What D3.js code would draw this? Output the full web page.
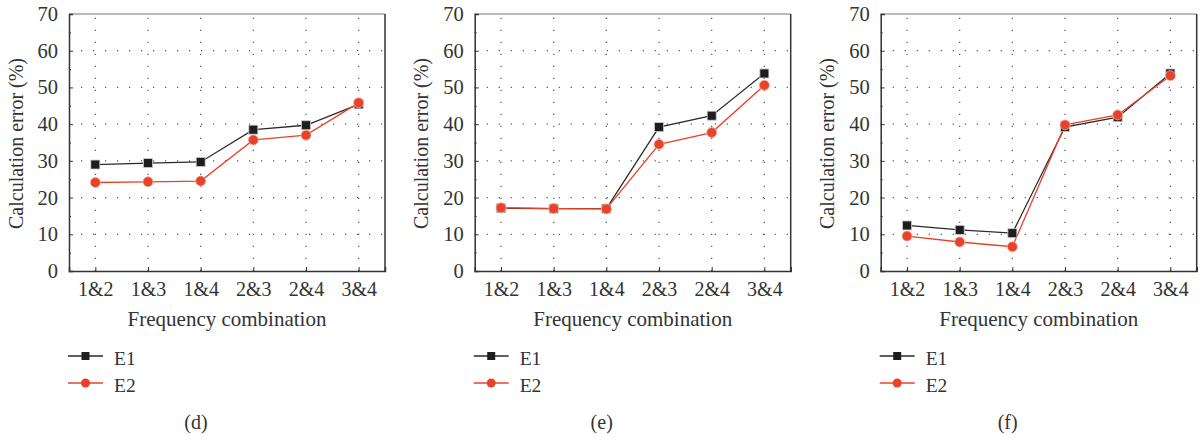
<!DOCTYPE html>
<html><head><meta charset="utf-8">
<script src="https://cdn.jsdelivr.net/npm/d3@7"></script>
<style>body{margin:0;background:#fff}svg{display:block}</style>
</head><body><svg id="c" width="1202" height="443"></svg>
<script>
const categories = ["1&2","1&3","1&4","2&3","2&4","3&4"];
const yTicks = [0,10,20,30,40,50,60,70];
const seriesNames = ["E1","E2"];
const panelLabels = ["(d)","(e)","(f)"];
const dE1 = [29.0, 29.4, 29.7, 38.5, 39.7, 45.4];
const dE2 = [24.1, 24.3, 24.5, 35.7, 37.0, 45.8];
const eE1 = [17.1, 17.0, 17.0, 39.2, 42.3, 53.8];
const eE2 = [17.2, 17.0, 16.9, 34.5, 37.7, 50.6];
const fE1 = [12.4, 11.2, 10.3, 39.2, 41.9, 53.8];
const fE2 = [9.5, 7.9, 6.6, 39.8, 42.5, 53.2];
const panels = [[dE1,dE2],[eE1,eE2],[fE1,fE2]];

const FONT = '"Liberation Serif","Times New Roman",serif';
const svg = d3.select("#c");
const lefts = [69, 474.7, 880.7];
const W = 316, pTop = 14, pBottom = 271;
const colors = ["#1e1e1e", "#e8432a"];
const lineColors = ["#2a2a2a", "#e8432a"];
const txtCol = "#333";
const txt = (sel, size) => sel.style("font-family", FONT).style("font-size", size + "px").style("fill", txtCol);

panels.forEach((series, pi) => {
  const L = lefts[pi];
  const g = svg.append("g").attr("transform", `translate(${L},0)`);
  const x = d3.scalePoint().domain(categories).range([0, W]).padding(0.5);
  const y = d3.scaleLinear().domain([0, 70]).range([pBottom, pTop]);

  // grid
  g.selectAll(".hg").data(yTicks.filter(t => t > 0 && t < 70)).join("line")
    .attr("x1", 0).attr("x2", W).attr("y1", d => y(d)).attr("y2", d => y(d))
    .attr("stroke", "#555").attr("stroke-width", 1.2).attr("stroke-dasharray", "1.2,10.8");
  g.selectAll(".vg").data(categories).join("line")
    .attr("x1", d => x(d)).attr("x2", d => x(d)).attr("y1", pBottom).attr("y2", pTop)
    .attr("stroke", "#555").attr("stroke-width", 1.2).attr("stroke-dasharray", "1.2,10.8");

  // frame top/right
  g.append("line").attr("x1", 0).attr("x2", W).attr("y1", pTop).attr("y2", pTop).attr("stroke", "#777").attr("stroke-width", 1);
  g.append("line").attr("x1", W).attr("x2", W).attr("y1", pTop).attr("y2", pBottom).attr("stroke", "#333").attr("stroke-width", 1.5);

  // y axis
  const ya = g.append("g").call(d3.axisLeft(y).tickValues(yTicks).tickSize(-4).tickPadding(11));
  ya.attr("font-family", null).attr("font-size", null);
  ya.select(".domain").attr("stroke", "#333").attr("stroke-width", 1.5);
  ya.selectAll(".tick line").attr("stroke", "#333").attr("stroke-width", 1);
  ya.selectAll(".tick text").call(txt, 20.5);
  // minor ticks
  const ym = g.append("g").call(d3.axisLeft(y).tickValues(d3.range(5, 70, 10)).tickSize(-2).tickFormat(""));
  ym.select(".domain").remove();
  ym.selectAll(".tick line").attr("stroke", "#333").attr("stroke-width", 1);

  // x axis
  const xa = g.append("g").attr("transform", `translate(0,${pBottom})`).call(d3.axisBottom(x).tickSize(-4).tickPadding(11));
  xa.attr("font-family", null).attr("font-size", null);
  xa.select(".domain").attr("stroke", "#333").attr("stroke-width", 1.5);
  xa.selectAll(".tick line").attr("stroke", "#333").attr("stroke-width", 1);
  xa.selectAll(".tick text").call(txt, 20);

  // axis titles
  g.append("text").attr("transform", `translate(-51,${(pTop+pBottom)/2 + 1}) rotate(-90)`)
    .attr("text-anchor", "middle").attr("dominant-baseline", "middle").call(txt, 20).text("Calculation error (%)");
  g.append("text").attr("x", W/2).attr("y", 326).attr("text-anchor", "middle").call(txt, 21).text("Frequency combination");

  // lines
  const line = d3.line().x((d, i) => x(categories[i])).y(d => y(d));
  series.forEach((vals, si) => {
    g.append("path").attr("d", line(vals)).attr("fill", "none").attr("stroke", lineColors[si]).attr("stroke-width", 1.3);
  });
  // markers
  series.forEach((vals, si) => {
    if (si === 0) {
      g.selectAll(null).data(vals).join("rect")
        .attr("x", (d, i) => x(categories[i]) - 4.5).attr("y", d => y(d) - 4.5)
        .attr("width", 9).attr("height", 9).attr("fill", colors[0]).attr("stroke", "#ccc").attr("stroke-width", 0.8);
    } else {
      g.selectAll(null).data(vals).join("circle")
        .attr("cx", (d, i) => x(categories[i])).attr("cy", d => y(d)).attr("r", 5)
        .attr("fill", colors[1]).attr("stroke", "#f4b0a0").attr("stroke-width", 0.8);
    }
  });

  // legend
  seriesNames.forEach((nm, si) => {
    const ly = 356 + si * 27;
    g.append("line").attr("x1", -1).attr("x2", 34).attr("y1", ly).attr("y2", ly).attr("stroke", lineColors[si]).attr("stroke-width", 1.3);
    if (si === 0) g.append("rect").attr("x", 16.5 - 4).attr("y", ly - 4).attr("width", 8).attr("height", 8).attr("fill", colors[0]);
    else g.append("circle").attr("cx", 16.5).attr("cy", ly).attr("r", 4.5).attr("fill", colors[1]);
    g.append("text").attr("x", 45).attr("y", ly + 8.5).call(txt, 19.5).text(nm);
  });

  g.append("text").attr("x", 127).attr("y", 429).attr("text-anchor", "middle").call(txt, 20).text(panelLabels[pi]);
});
</script></body></html>
